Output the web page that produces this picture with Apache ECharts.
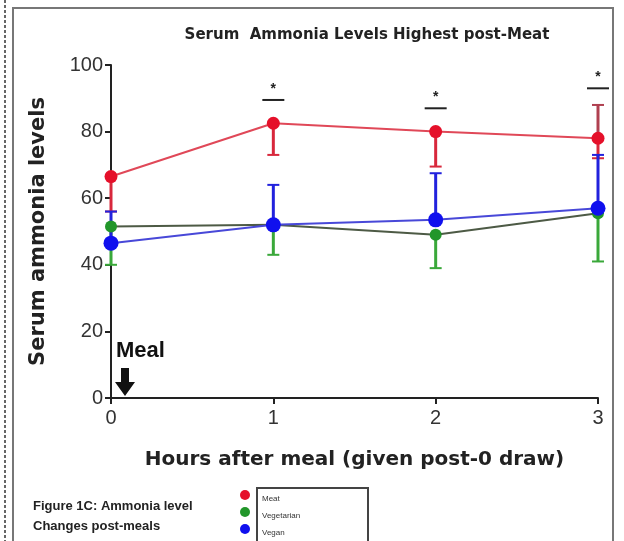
<!DOCTYPE html>
<html><head><meta charset="utf-8">
<script src="https://cdn.jsdelivr.net/npm/echarts@6/dist/echarts.min.js"></script>
<style>html,body{margin:0;padding:0;background:#fff}#c{width:624px;height:541px}</style>
</head><body><div id="c"></div>
<script>
const hours = [0, 1, 2, 3];
const meat = [66.5, 82.5, 80, 78];
const meatLow = [56, 73, 69.5, 72];
const meatHigh = [null, null, null, 88];
const vegetarian = [51.5, 52, 49, 55.5];
const vegetarianLow = [40, 43, 39, 41];
const vegan = [46.5, 52, 53.5, 57];
const veganHigh = [56, 64, 67.5, 73];
const sigHours = [1, 2, 3];
const sigLevel = [89.5, 87, 93];
const yTicks = [0, 20, 40, 60, 80, 100];
const xTicks = [0, 1, 2, 3];

const chart = echarts.init(document.getElementById('c'));

function errData(mean, bound) {
  return hours.map((h, i) => bound[i] == null ? null : [h, mean[i], bound[i]]).filter(d => d);
}
function errSeries(name, mean, bound, color) {
  return {
    type: 'custom', name: name + ' err', z: 3, silent: true,
    data: errData(mean, bound),
    renderItem: function (params, api) {
      const p0 = api.coord([api.value(0), api.value(1)]);
      const p1 = api.coord([api.value(0), api.value(2)]);
      return { type: 'group', children: [
        { type: 'line', shape: { x1: p0[0], y1: p0[1], x2: p1[0], y2: p1[1] }, style: { stroke: color, lineWidth: 3 } },
        { type: 'line', shape: { x1: p1[0] - 6, y1: p1[1], x2: p1[0] + 6, y2: p1[1] }, style: { stroke: color, lineWidth: 2 } }
      ]};
    }
  };
}

const font = '"Liberation Sans", Arial, sans-serif';
const wide = '"DejaVu Sans", sans-serif';
chart.setOption({
  animation: false,
  title: {
    text: 'Serum  Ammonia Levels Highest post-Meat', left: 362, top: 23, textAlign: 'center',
    textStyle: { fontFamily: wide, fontSize: 15, fontWeight: 'bold', color: '#222' }
  },
  grid: { left: 111, right: 26, top: 65, bottom: 143 },
  xAxis: {
    type: 'value', min: 0, max: 3, interval: 1,
    name: 'Hours after meal (given post-0 draw)', nameLocation: 'middle', nameGap: 52,
    nameTextStyle: { fontFamily: wide, fontSize: 20, fontWeight: 'bold', color: '#222' },
    axisLine: { lineStyle: { color: '#222', width: 2 } },
    axisTick: { length: 6, lineStyle: { color: '#222', width: 2 } },
    axisLabel: { fontFamily: font, fontSize: 20, color: '#333', margin: 10,
      formatter: v => xTicks.includes(v) ? String(v) : '' },
    splitLine: { show: false }
  },
  yAxis: {
    type: 'value', min: 0, max: 100, interval: 20,
    name: 'Serum ammonia levels', nameLocation: 'middle', nameGap: 62,
    nameTextStyle: { fontFamily: wide, fontSize: 21, fontWeight: 'bold', color: '#222' },
    axisLine: { show: true, lineStyle: { color: '#222', width: 2 } },
    axisTick: { show: true, length: 6, lineStyle: { color: '#222', width: 2 } },
    axisLabel: { fontFamily: font, fontSize: 20, color: '#333', margin: 8,
      formatter: v => yTicks.includes(v) ? String(v) : '' },
    splitLine: { show: false }
  },
  series: [
    errSeries('Meat low', meat, meatLow, '#d8283c'),
    errSeries('Meat high', meat, meatHigh, '#b04050'),
    errSeries('Vegetarian low', vegetarian, vegetarianLow, '#3aa83a'),
    errSeries('Vegan high', vegan, veganHigh, '#2222dd'),
    {
      name: 'Vegetarian', type: 'line', z: 4,
      data: hours.map((h, i) => [h, vegetarian[i]]),
      lineStyle: { color: '#4d5a45', width: 2 },
      itemStyle: { color: '#22962a' }, symbol: 'circle', symbolSize: 12
    },
    {
      name: 'Vegan', type: 'line', z: 5,
      data: hours.map((h, i) => [h, vegan[i]]),
      lineStyle: { color: '#4848d8', width: 2 },
      itemStyle: { color: '#1010ee' }, symbol: 'circle', symbolSize: 15
    },
    {
      name: 'Meat', type: 'line', z: 6,
      data: hours.map((h, i) => [h, meat[i]]),
      lineStyle: { color: '#e04858', width: 2 },
      itemStyle: { color: '#e5102a' }, symbol: 'circle', symbolSize: 13
    },
    {
      name: 'sig', type: 'custom', z: 6, silent: true,
      data: sigHours.map((h, i) => [h, sigLevel[i]]),
      renderItem: function (params, api) {
        const p = api.coord([api.value(0), api.value(1)]);
        return { type: 'group', children: [
          { type: 'line', shape: { x1: p[0] - 11, y1: p[1], x2: p[0] + 11, y2: p[1] }, style: { stroke: '#222', lineWidth: 2 } },
          { type: 'text', style: { x: p[0], y: p[1] - 4, text: '*', textAlign: 'center', textVerticalAlign: 'bottom',
            font: 'bold 14px ' + font, fill: '#222' } }
        ]};
      }
    }
  ],
  graphic: [
    { type: 'line', shape: { x1: 5, y1: 0, x2: 5, y2: 541 }, style: { stroke: '#666', lineWidth: 2, lineDash: [3, 2] } },
    { type: 'rect', shape: { x: 13, y: 8, width: 600, height: 540 }, style: { fill: 'none', stroke: '#777', lineWidth: 2 } },
    { type: 'text', left: 116, top: 340, style: { text: 'Meal', font: 'bold 22px ' + font, fill: '#111' } },
    { type: 'polygon', shape: { points: [[121, 368], [129, 368], [129, 382], [135, 382], [125, 396], [115, 382], [121, 382]] }, style: { fill: '#111' } },
    { type: 'text', left: 33, top: 496, style: { text: 'Figure 1C: Ammonia level\nChanges post-meals', font: 'bold 13px ' + font, fill: '#222', lineHeight: 20 } },
    { type: 'circle', shape: { cx: 245, cy: 495, r: 5 }, style: { fill: '#e5102a' } },
    { type: 'circle', shape: { cx: 245, cy: 512, r: 5 }, style: { fill: '#22962a' } },
    { type: 'circle', shape: { cx: 245, cy: 529, r: 5 }, style: { fill: '#1010ee' } },
    { type: 'rect', shape: { x: 257, y: 488, width: 111, height: 60 }, style: { fill: 'none', stroke: '#444', lineWidth: 2 } },
    { type: 'text', left: 262, top: 490, style: { text: 'Meat\nVegetarian\nVegan', font: '8px ' + font, fill: '#333', lineHeight: 17 } }
  ]
});
</script></body></html>
